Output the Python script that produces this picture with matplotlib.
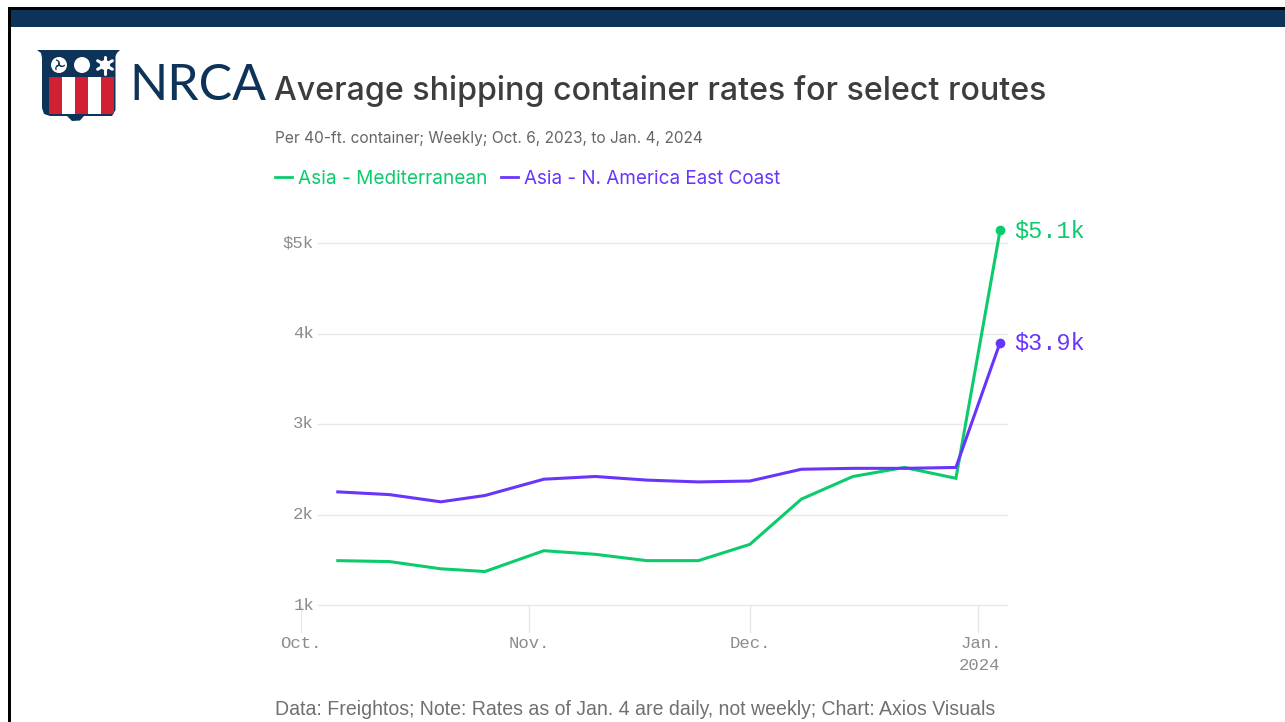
import matplotlib
matplotlib.use("Agg")
import matplotlib.pyplot as plt
import matplotlib.dates as mdates
from matplotlib.patches import Polygon, Rectangle, Circle, Wedge
from datetime import date
import math

W, H = 1285, 722
dates = [date(2023,10,6), date(2023,10,13), date(2023,10,20), date(2023,10,26),
         date(2023,11,3), date(2023,11,10), date(2023,11,17), date(2023,11,24),
         date(2023,12,1), date(2023,12,8), date(2023,12,15), date(2023,12,22),
         date(2023,12,29), date(2024,1,4)]
med = [1.49, 1.48, 1.40, 1.37, 1.60, 1.56, 1.49, 1.49, 1.67, 2.17, 2.42, 2.52, 2.40, 5.14]
nae = [2.25, 2.22, 2.14, 2.21, 2.39, 2.42, 2.38, 2.36, 2.37, 2.50, 2.51, 2.51, 2.52, 3.90]
yticks = [1, 2, 3, 4, 5]
ylabels = ["1k", "2k", "3k", "4k", "$5k"]
xticks = [date(2023,10,1), date(2023,11,1), date(2023,12,1), date(2024,1,1)]
xlabels = ["Oct.", "Nov.", "Dec.", "Jan."]
GREEN, PURPLE = "#0ccb6c", "#6935fb"
NAVY, RED = "#0e3358", "#d11f33"
MONO = "Liberation Mono"
SANS = "Inter"
TICK = "#8c8c8c"

fig = plt.figure(figsize=(W/100, H/100), dpi=100, facecolor="white")
bg = fig.add_axes([0, 0, 1, 1]); bg.set_xlim(0, W); bg.set_ylim(H, 0); bg.axis("off")
bg.add_patch(Rectangle((8, 7), W-8, 2.5, color="black", lw=0))
bg.add_patch(Rectangle((8, 7), 2.5, H-7, color="black", lw=0))
bg.add_patch(Rectangle((10.5, 9.5), W-10, 17.5, color=NAVY, lw=0))

# logo: crest
bg.add_patch(Polygon([(37,50),(120,50),(117,53),(115.5,56),(115.5,110),(112,116),(84,116),(80,120.5),(72,121),(67,116),
                      (50,116),(44,114),(42,108),(42,58),(41,53)], color=NAVY, lw=0))
for x0, c, w in zip([49, 62, 75, 88, 101], [RED, "white", RED, "white", RED], [13, 13, 13, 13, 13]):
    bg.add_patch(Rectangle((x0, 77), w, 37, color=c, lw=0))
bg.add_patch(Circle((59, 65), 8, color="white", lw=0))
for a in (90, 210, 330):
    cx = 59 + 3.4*math.cos(math.radians(a))
    cy = 65 + 3.4*math.sin(math.radians(a))
    bg.add_patch(Wedge((cx, cy), 3.8, a+60, a+230, width=1.3, color=NAVY, lw=0))
bg.add_patch(Circle((82, 65), 8, color="white", lw=0))
for a in range(30, 180, 60):
    c, s = math.cos(math.radians(a)), math.sin(math.radians(a))
    bg.plot([105-8.5*c, 105+8.5*c], [65-8.5*s, 65+8.5*s], color="white", lw=2.2, solid_capstyle="round")
bg.add_patch(Circle((105, 65), 5, color="white", lw=0))
bg.text(129, 100, "NRCA", fontsize=36.0, family="Lato", color=NAVY, va="baseline")

bg.text(274, 100, "Average shipping container rates for select routes", fontsize=23.15, family=SANS, weight="medium", color="#3d3d3d", va="baseline")
bg.text(275, 143, "Per 40-ft. container; Weekly; Oct. 6, 2023, to Jan. 4, 2024", fontsize=11.15, family=SANS, color="#666666", va="baseline")
bg.plot([275, 292], [177, 177], color=GREEN, lw=2)
bg.text(298, 184, "Asia - Mediterranean", fontsize=13.7, family=SANS, color=GREEN, va="baseline")
bg.plot([501, 518], [177, 177], color=PURPLE, lw=2)
bg.text(524, 184, "Asia - N. America East Coast", fontsize=13.6, family=SANS, color=PURPLE, va="baseline")
bg.text(275, 715, "Data: Freightos; Note: Rates as of Jan. 4 are daily, not weekly; Chart: Axios Visuals", fontsize=14.07, family="Liberation Sans", color="#707070", va="baseline")

# chart axes: x spans pixel 301..1008, y spans pixel 633..225
px_per_k = 90.5
ax = fig.add_axes([301/W, 1-633/H, (1008-301)/W, (633-225)/H])
ax.patch.set_alpha(0)
x0 = mdates.date2num(date(2023,10,1))
px_day = (978-301)/92
ax.set_xlim(x0, x0 + (1008-301)/px_day)
ax.set_ylim(1-(633-605)/px_per_k, 1+(605-225)/px_per_k)
for s in ax.spines.values():
    s.set_visible(False)
ax.set_xticks([]); ax.set_yticks([])
ax.hlines(yticks, x0 + 16/px_day, x0 + (1008-301)/px_day, color="#e8e8e8", lw=1.0, zorder=1)
ax.vlines([mdates.date2num(d) for d in xticks], ax.get_ylim()[0], 1, color="#e8e8e8", lw=1.0, zorder=1)
xn = [mdates.date2num(d) for d in dates]
ax.plot(xn, med, color=GREEN, lw=2.2, solid_joinstyle="miter", zorder=3, clip_on=False)
ax.plot(xn, nae, color=PURPLE, lw=2.2, solid_joinstyle="miter", zorder=4, clip_on=False)
ax.plot(xn[-1], med[-1], "o", color=GREEN, ms=7, mew=0, zorder=5, clip_on=False)
ax.plot(xn[-1], nae[-1], "o", color=PURPLE, ms=7, mew=0, zorder=5, clip_on=False)
off = 14.5/px_day
lift = 1.5/px_per_k
ax.text(xn[-1]+off, med[-1]+lift, r"\$5.1k", color=GREEN, family=MONO, fontsize=16.9, va="center_baseline", clip_on=False)
ax.text(xn[-1]+off, nae[-1]+lift, r"\$3.9k", color=PURPLE, family=MONO, fontsize=16.9, va="center_baseline", clip_on=False)
for v, l in zip(yticks, ylabels):
    ax.text(x0 + 13/px_day, v, l.replace("$", r"\$"), ha="right", va="center", family=MONO, fontsize=12.4, color=TICK)
xoff = [0, 0, 0, 3]
for d, l, o in zip(xticks, xlabels, xoff):
    ax.text(mdates.date2num(d)+o/px_day, 1-(643-605)/px_per_k, l, ha="center", va="center", family=MONO, fontsize=12.4, color=TICK, clip_on=False)
ax.text(mdates.date2num(xticks[-1])+1/px_day, 1-(665-605)/px_per_k, "2024", ha="center", va="center", family=MONO, fontsize=12.4, color=TICK, clip_on=False)

fig.savefig("out.png", dpi=100)
